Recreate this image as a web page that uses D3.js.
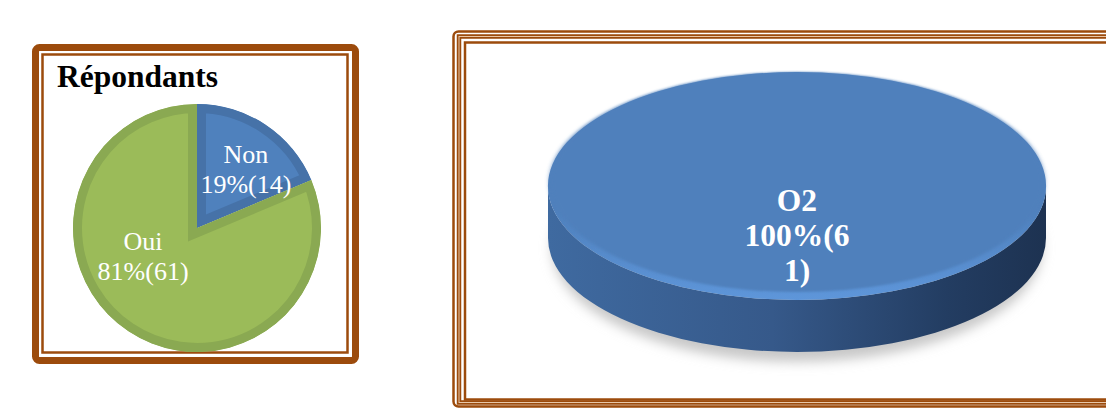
<!DOCTYPE html>
<html>
<head>
<meta charset="utf-8">
<script src="https://cdn.jsdelivr.net/npm/d3@7"></script>
<style>
  body { margin: 0; background: #fff; }
  svg { display: block; }
</style>
</head>
<body>
<script>
// left chart: respondents
const categories = ['Non', 'Oui'];
const counts = [14, 61];
const percents = [19, 81];

// right chart
const categories2 = ['O2'];
const counts2 = [61];
const percents2 = [100];

const W = 1106, H = 410;
const brown = '#9c4b0c';

const svg = d3.select('body').append('svg')
  .attr('width', W)
  .attr('height', H);

const defs = svg.append('defs');

// ---------- left frame ----------
svg.append('rect')
  .attr('x', 35.5).attr('y', 47.5)
  .attr('width', 320).attr('height', 313)
  .attr('rx', 4)
  .attr('fill', '#fff')
  .attr('stroke', brown)
  .attr('stroke-width', 7);

svg.append('rect')
  .attr('x', 42.5).attr('y', 54.5)
  .attr('width', 305).attr('height', 298)
  .attr('fill', 'none')
  .attr('stroke', brown)
  .attr('stroke-width', 2.5);

svg.append('text')
  .attr('x', 57).attr('y', 87)
  .attr('font-family', 'Liberation Serif, Times New Roman, serif')
  .attr('font-weight', 'bold')
  .attr('font-size', 31.5)
  .attr('fill', '#000')
  .text('Répondants');

// ---------- left pie ----------
const cx = 197, cy = 228, r = 124;
const fills = ['#4f81bd', '#9bbb59'];
const edges = ['#4672a8', '#8aa952'];

const pie = d3.pie().sort(null).value(d => d);
const arcs = pie(counts);
const arc = d3.arc().innerRadius(0).outerRadius(r);
const labelArc = d3.arc().innerRadius(74).outerRadius(74);
const labelNudge = [[8, 3], [-13, -34]];

const gPie = svg.append('g').attr('transform', `translate(${cx},${cy})`);

arcs.forEach((a, i) => {
  defs.append('clipPath').attr('id', 'slice' + i)
    .append('path').attr('d', arc(a));
  gPie.append('path')
    .attr('d', arc(a))
    .attr('clip-path', `url(#slice${i})`)
    .attr('fill', fills[i])
    .attr('stroke', edges[i])
    .attr('stroke-width', 18);
});

arcs.forEach((a, i) => {
  const c = labelArc.centroid(a);
  const lx = c[0] + labelNudge[i][0], ly = c[1] + labelNudge[i][1];
  const t = gPie.append('text')
    .attr('text-anchor', 'middle')
    .attr('font-family', 'Liberation Serif, Times New Roman, serif')
    .attr('font-size', 26)
    .attr('fill', '#fff');
  t.append('tspan').attr('x', lx).attr('y', ly - 6).text(categories[i]);
  t.append('tspan').attr('x', lx).attr('y', ly + 24)
    .text(`${percents[i]}%(${counts[i]})`);
});

// ---------- right frame ----------
svg.append('rect')
  .attr('x', 453.5).attr('y', 31.5)
  .attr('width', 700).attr('height', 375)
  .attr('rx', 5)
  .attr('fill', 'none')
  .attr('stroke', brown)
  .attr('stroke-width', 2.5);
svg.append('rect')
  .attr('x', 459).attr('y', 36.5)
  .attr('width', 700).attr('height', 366)
  .attr('fill', 'none')
  .attr('stroke', brown)
  .attr('stroke-width', 4.5);
svg.append('rect')
  .attr('x', 459).attr('y', 36.5)
  .attr('width', 700).attr('height', 366)
  .attr('fill', 'none')
  .attr('stroke', '#e8c7a8')
  .attr('stroke-width', 1);
svg.append('rect')
  .attr('x', 465).attr('y', 42.5)
  .attr('width', 700).attr('height', 357)
  .attr('fill', 'none')
  .attr('stroke', brown)
  .attr('stroke-width', 2.5);

// ---------- right 3D pie ----------
const px = 797, py = 186, rx = 249, ry = 114, depth = 52;
const arcs2 = pie(counts2);
const arc2 = d3.arc().innerRadius(0).outerRadius(rx);

const shadow = defs.append('filter').attr('id', 'shadow')
  .attr('x', '-20%').attr('y', '-20%').attr('width', '140%').attr('height', '140%');
shadow.append('feGaussianBlur').attr('stdDeviation', 6);

const soft = defs.append('filter').attr('id', 'soft')
  .attr('x', '-10%').attr('y', '-10%').attr('width', '120%').attr('height', '120%');
soft.append('feGaussianBlur').attr('stdDeviation', 2.5);

const sideGrad = defs.append('linearGradient').attr('id', 'sideGrad')
  .attr('x1', 0).attr('x2', 1).attr('y1', 0).attr('y2', 0);
sideGrad.append('stop').attr('offset', '0%').attr('stop-color', '#3f6aa0');
sideGrad.append('stop').attr('offset', '45%').attr('stop-color', '#36598a');
sideGrad.append('stop').attr('offset', '80%').attr('stop-color', '#233d62');
sideGrad.append('stop').attr('offset', '100%').attr('stop-color', '#1d3251');

// base of the top face: plain on top, bevel highlight toward the front edge
const topGrad = defs.append('linearGradient').attr('id', 'topGrad')
  .attr('x1', 0).attr('x2', 0).attr('y1', 0).attr('y2', 1);
topGrad.append('stop').attr('offset', '0%').attr('stop-color', '#4f80bc');
topGrad.append('stop').attr('offset', '60%').attr('stop-color', '#4f80bc');
topGrad.append('stop').attr('offset', '100%').attr('stop-color', '#5e96da');

const g2 = svg.append('g');

// soft shadow under the disc
g2.append('ellipse')
  .attr('cx', px).attr('cy', py + depth + 10)
  .attr('rx', rx - 4).attr('ry', ry)
  .attr('fill', '#c8c8c8')
  .attr('filter', 'url(#shadow)');

// side wall
const sidePath = `M${px - rx},${py} A${rx},${ry} 0 0 0 ${px + rx},${py}`
  + ` L${px + rx},${py + depth} A${rx},${ry} 0 0 1 ${px - rx},${py + depth} Z`;
g2.append('path')
  .attr('d', sidePath)
  .attr('fill', 'url(#sideGrad)');

// top face (ellipse from pie arc, squashed)
const topFace = g2.append('g')
  .attr('transform', `translate(${px},${py}) scale(1,${ry / rx})`);
arcs2.forEach(a => {
  topFace.append('path').attr('d', arc2(a)).attr('fill', 'url(#topGrad)');
});
const innerRx = rx - 2, innerRy = ry - 4;
const topInner = g2.append('g')
  .attr('transform', `translate(${px},${py - 4}) scale(1,${innerRy / innerRx})`);
arcs2.forEach(a => {
  topInner.append('path')
    .attr('d', d3.arc().innerRadius(0).outerRadius(innerRx)(a))
    .attr('fill', '#4f80bc')
    .attr('filter', 'url(#soft)');
});

const lines2 = [categories2[0], `${percents2[0]}%(6`, `${String(counts2[0]).slice(1)})`];
const t2 = g2.append('text')
  .attr('text-anchor', 'middle')
  .attr('font-family', 'Liberation Serif, Times New Roman, serif')
  .attr('font-weight', 'bold')
  .attr('font-size', 31.5)
  .attr('fill', '#fff');
lines2.forEach((s, i) => {
  t2.append('tspan').attr('x', px).attr('y', 211 + i * 35).text(s);
});
</script>
</body>
</html>
